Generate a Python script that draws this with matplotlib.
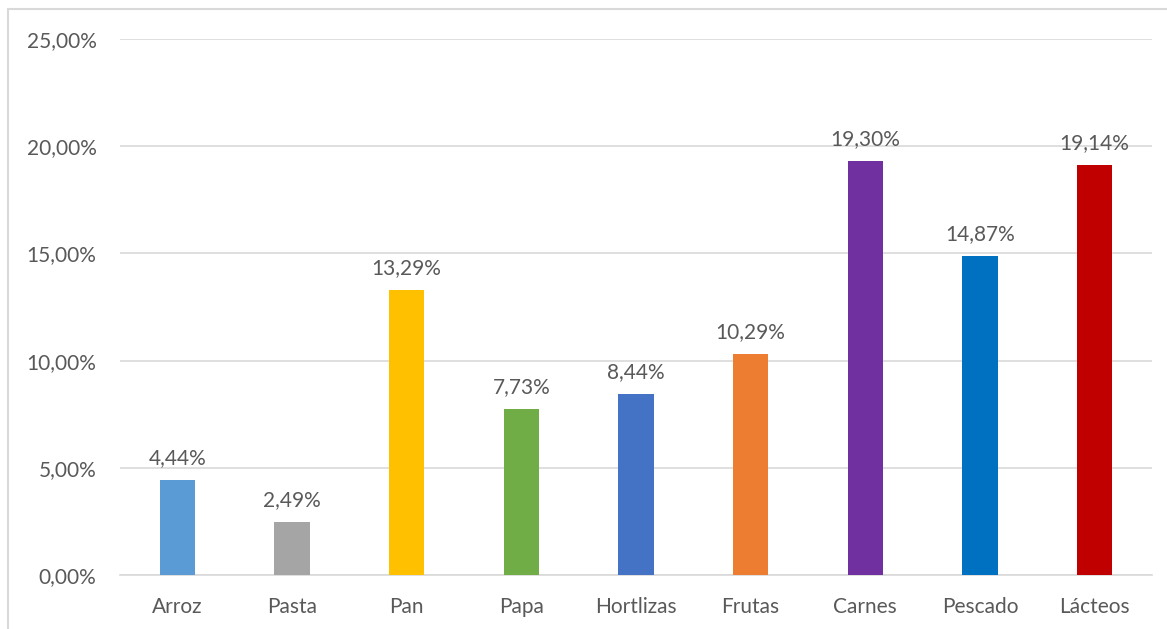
import matplotlib.pyplot as plt
from matplotlib.patches import Rectangle
from matplotlib.ticker import FuncFormatter

plt.rcParams['font.family'] = ['Lato', 'DejaVu Sans']

categorias = ['Arroz', 'Pasta', 'Pan', 'Papa', 'Hortlizas', 'Frutas',
              'Carnes', 'Pescado', 'Lácteos']
porcentajes = [4.44, 2.49, 13.29, 7.73, 8.44, 10.29, 19.30, 14.87, 19.14]
colores = ['#5B9BD5', '#A5A5A5', '#FFC000', '#70AD47', '#4472C4',
           '#ED7D31', '#7030A0', '#0070C0', '#C00000']

texto = '#595959'


def coma(v, decimales=2):
    return f'{v:.{decimales}f}'.replace('.', ',') + '%'


fig = plt.figure(figsize=(11.67, 6.29), dpi=100)
ax = fig.add_axes([120 / 1167, 1 - 575 / 629, 1032 / 1167, 536 / 629])

# marco exterior del gráfico
fig.patches.append(Rectangle((8 / 1167, -0.1), 1.2, 1 - 9 / 629 + 0.1,
                             transform=fig.transFigure, fill=False,
                             edgecolor='#D9D9D9', linewidth=1.5))

x = range(len(categorias))
barras = ax.bar(x, porcentajes, width=0.31, color=colores, zorder=3)

for xi, v in zip(x, porcentajes):
    ax.text(xi, v + 0.55, coma(v), ha='center', va='bottom',
            fontsize=15, color=texto)

ax.set_xlim(-0.5, len(categorias) - 0.5)
ax.set_ylim(0, 25)
ax.set_yticks([0, 5, 10, 15, 20, 25])
ax.yaxis.set_major_formatter(FuncFormatter(lambda v, _: coma(v)))
ax.set_xticks(list(x))
ax.set_xticklabels(categorias)
ax.grid(axis='y', color='#D9D9D9', linewidth=1.2, zorder=0)
ax.tick_params(axis='both', length=0, labelsize=15, labelcolor=texto)
ax.tick_params(axis='y', pad=17)
ax.tick_params(axis='x', pad=16)
for lado in ['top', 'right', 'left']:
    ax.spines[lado].set_visible(False)
ax.spines['bottom'].set_color('#D9D9D9')
ax.spines['bottom'].set_linewidth(1.2)

fig.savefig('out.png', dpi=100)
